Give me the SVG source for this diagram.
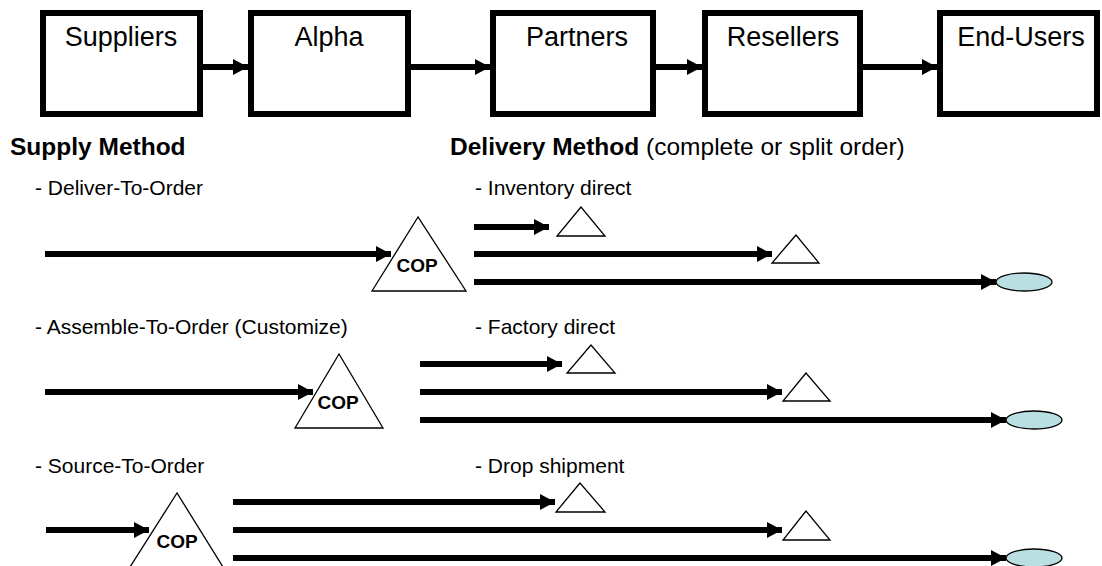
<svg xmlns="http://www.w3.org/2000/svg" width="1102" height="566" viewBox="0 0 1102 566">
<defs>
<style>
.box{fill:#fff;stroke:#000;stroke-width:6}
.lbl{font-family:"Liberation Sans",Arial,sans-serif;font-size:27px;fill:#000;text-anchor:middle}
.hdr{font-family:"Liberation Sans",Arial,sans-serif;font-size:24.5px;font-weight:bold;fill:#000}
.reg{font-family:"Liberation Sans",Arial,sans-serif;font-size:21px;fill:#000}
.cop{font-family:"Liberation Sans",Arial,sans-serif;font-size:19px;font-weight:bold;fill:#000;text-anchor:middle}
.tri{fill:#fff;stroke:#000;stroke-width:1.3}
.ell{fill:#b9dfe2;stroke:#000;stroke-width:1.3}
.ln{stroke:#000;stroke-width:6;fill:none;marker-end:url(#ah)}
</style>
<marker id="ah" markerUnits="userSpaceOnUse" markerWidth="16" markerHeight="16" refX="15" refY="8" orient="auto">
<path d="M0,0 L15,8 L0,16 Z" fill="#000"/>
</marker>
</defs>
<rect width="1102" height="566" fill="#fff"/>
<g id="connectors">
<line class="ln" x1="202" y1="67" x2="248" y2="67"/>
<line class="ln" x1="411" y1="67" x2="490" y2="67"/>
<line class="ln" x1="656" y1="67" x2="702" y2="67"/>
<line class="ln" x1="863" y1="67" x2="937" y2="67"/>
<line class="ln" x1="45" y1="254" x2="391" y2="254"/>
<line class="ln" x1="474" y1="227" x2="549" y2="227"/>
<line class="ln" x1="474" y1="254" x2="772" y2="254"/>
<line class="ln" x1="474" y1="282" x2="996" y2="282"/>
<line class="ln" x1="45" y1="392" x2="313" y2="392"/>
<line class="ln" x1="420" y1="364" x2="562" y2="364"/>
<line class="ln" x1="420" y1="392" x2="782" y2="392"/>
<line class="ln" x1="420" y1="420" x2="1006" y2="420"/>
<line class="ln" x1="46" y1="530" x2="149" y2="530"/>
<line class="ln" x1="233" y1="502" x2="555" y2="502"/>
<line class="ln" x1="233" y1="530" x2="782" y2="530"/>
<line class="ln" x1="233" y1="558" x2="1006" y2="558"/>
</g>
<g id="suppliers"><rect class="box" x="43" y="13" width="157" height="101"/><text class="lbl" x="121" y="46">Suppliers</text></g>
<g id="alpha"><rect class="box" x="251" y="13" width="157" height="101"/><text class="lbl" x="329" y="46">Alpha</text></g>
<g id="partners"><rect class="box" x="493" y="13" width="160" height="101"/><text class="lbl" x="577" y="46">Partners</text></g>
<g id="resellers"><rect class="box" x="705" y="13" width="155" height="101"/><text class="lbl" x="783" y="46">Resellers</text></g>
<g id="end-users"><rect class="box" x="940" y="13" width="157" height="101"/><text class="lbl" x="1021" y="46">End-Users</text></g>
<g id="headers">
<text class="hdr" x="10" y="155">Supply Method</text>
<text class="hdr" x="450" y="155">Delivery Method <tspan font-weight="normal">(complete or split order)</tspan></text>
<text class="reg" x="35" y="195">- Deliver-To-Order</text>
<text class="reg" x="475" y="195">- Inventory direct</text>
<text class="reg" x="35" y="334">- Assemble-To-Order (Customize)</text>
<text class="reg" x="475" y="334">- Factory direct</text>
<text class="reg" x="35" y="473">- Source-To-Order</text>
<text class="reg" x="475" y="473">- Drop shipment</text>
</g>
<g id="cop1"><polygon class="tri" points="418,217 372,291 466,291"/><text class="cop" x="417" y="272">COP</text></g>
<g id="cop2"><polygon class="tri" points="339,354 295,428 383,428"/><text class="cop" x="338" y="409">COP</text></g>
<g id="cop3"><polygon class="tri" points="177,493 130,567 223,567"/><text class="cop" x="177" y="548">COP</text></g>
<g id="r1t1"><polygon class="tri" points="581,207 557,236 605,236"/></g>
<g id="r1t2"><polygon class="tri" points="796,235 772,263 819,263"/></g>
<g id="r1e"><ellipse class="ell" cx="1024" cy="282" rx="28" ry="9"/></g>
<g id="r2t1"><polygon class="tri" points="591,345 567,373 615,373"/></g>
<g id="r2t2"><polygon class="tri" points="806,373 783,401 830,401"/></g>
<g id="r2e"><ellipse class="ell" cx="1034" cy="420" rx="28" ry="9"/></g>
<g id="r3t1"><polygon class="tri" points="580,483 556,512 605,512"/></g>
<g id="r3t2"><polygon class="tri" points="806,511 783,540 830,540"/></g>
<g id="r3e"><ellipse class="ell" cx="1034" cy="558" rx="28" ry="9"/></g>
</svg>
